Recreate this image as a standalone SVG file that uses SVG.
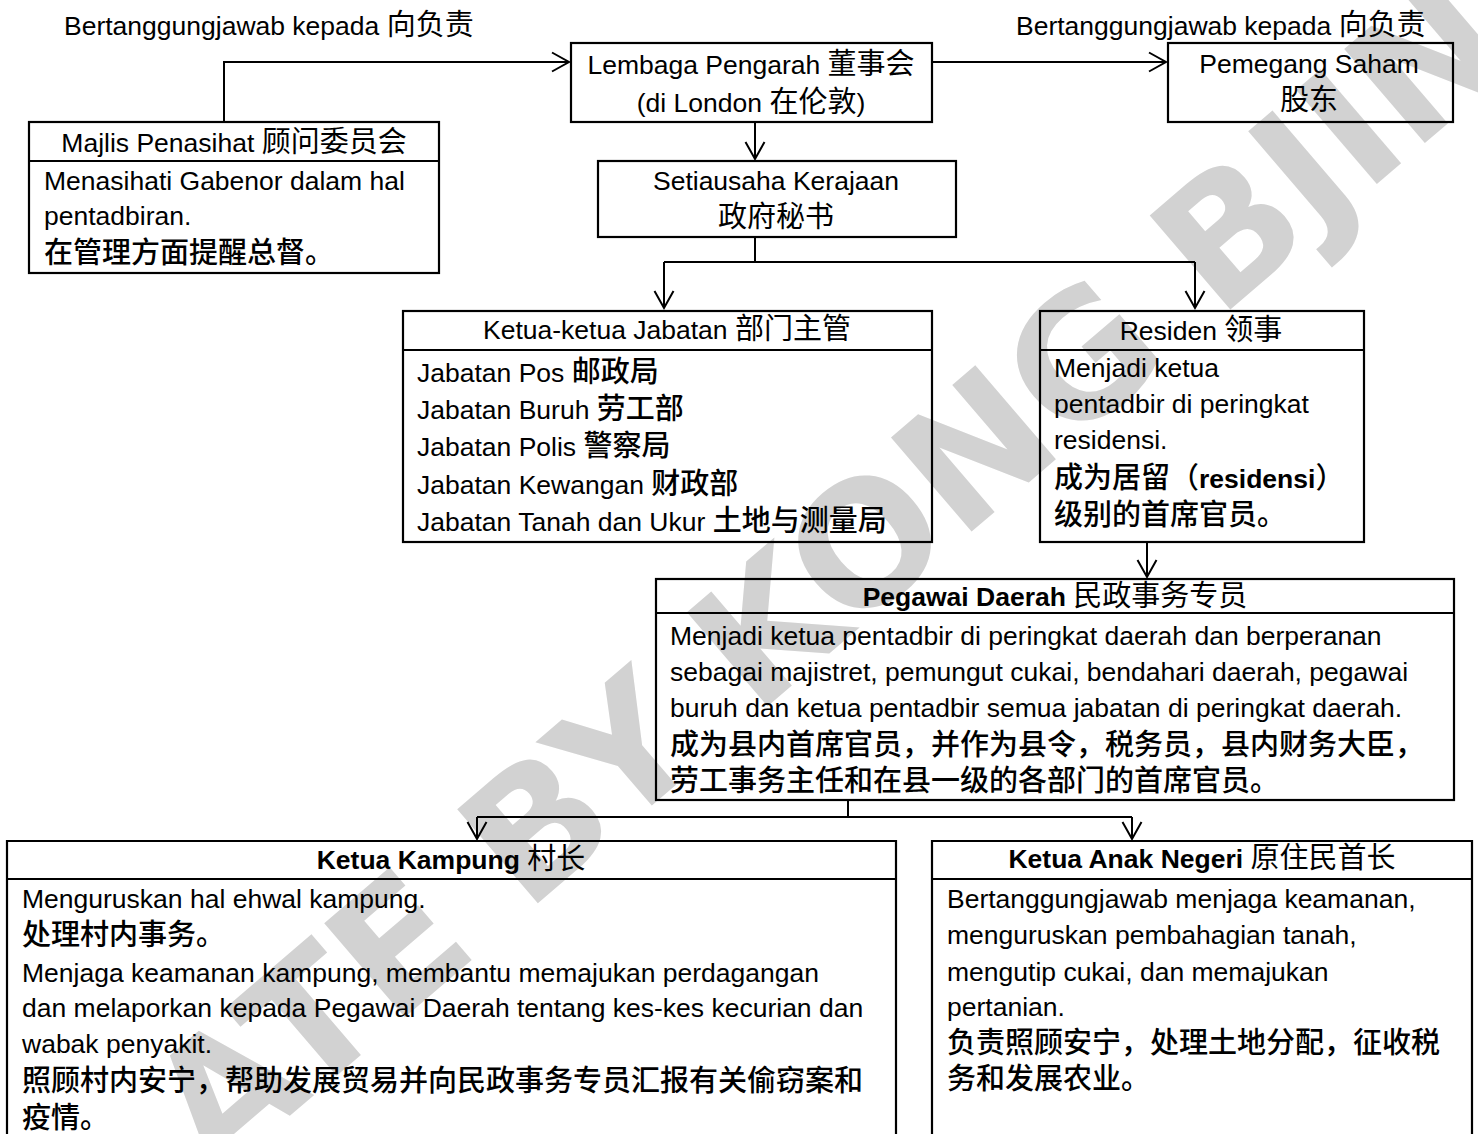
<svg xmlns="http://www.w3.org/2000/svg" width="1478" height="1134" viewBox="0 0 1478 1134">
<defs>
<style>
.box{fill:none;stroke:#000;stroke-width:2.2}
.div{stroke:#000;stroke-width:2.2}
.conn{fill:none;stroke:#000;stroke-width:2}
text{font-family:"Liberation Sans","Noto Sans CJK SC",sans-serif;font-size:26.5px;fill:#000}
.m{text-anchor:middle}
.c{font-family:"Noto Sans CJK SC",sans-serif;font-size:29px;font-weight:400}
.cb{font-family:"Noto Sans CJK SC",sans-serif;font-size:29px;font-weight:500}
.b{font-weight:bold}
.wm{font-family:"DejaVu Sans",sans-serif;font-weight:bold;font-size:170px;fill:#d2d2d2}
</style>
<marker id="arr" markerUnits="userSpaceOnUse" markerWidth="22" markerHeight="22" refX="18" refY="10" orient="auto" overflow="visible">
<path d="M1,0.5 L18,10 L1,19.5" fill="none" stroke="#000" stroke-width="2"/>
</marker>
</defs>
<rect width="1478" height="1134" fill="#fff"/>
<g id="watermark">
<text class="wm" transform="translate(215,1180) rotate(-40.6)">ATE BY KONG BJING</text>
</g>
<g id="labels">
<text x="64" y="35">Bertanggungjawab kepada <tspan class="c">向负责</tspan></text>
<text x="1016" y="35">Bertanggungjawab kepada <tspan class="c">向负责</tspan></text>
</g>
<g id="connectors">
<path class="conn" d="M224,122 L224,62 L569,62" marker-end="url(#arr)"/>
<path class="conn" d="M932,62 L1166,62" marker-end="url(#arr)"/>
<path class="conn" d="M755,122 L755,159" marker-end="url(#arr)"/>
<path class="conn" d="M755,237 L755,262"/>
<path class="conn" d="M664,262 L1195,262"/>
<path class="conn" d="M664,262 L664,308" marker-end="url(#arr)"/>
<path class="conn" d="M1195,262 L1195,308" marker-end="url(#arr)"/>
<path class="conn" d="M1147,542 L1147,577" marker-end="url(#arr)"/>
<path class="conn" d="M848,800 L848,817"/>
<path class="conn" d="M477,817 L1132,817"/>
<path class="conn" d="M477,817 L477,839" marker-end="url(#arr)"/>
<path class="conn" d="M1132,817 L1132,839" marker-end="url(#arr)"/>
</g>
<g id="lembaga">
<rect class="box" x="571" y="43" width="361" height="79"/>
<text class="m" x="751" y="74">Lembaga Pengarah <tspan class="c">董事会</tspan></text>
<text class="m" x="751" y="112">(di London <tspan class="c">在伦敦</tspan>)</text>
</g>
<g id="pemegang">
<rect class="box" x="1168" y="43" width="285" height="79"/>
<text class="m" x="1309" y="73">Pemegang Saham</text>
<text class="m" x="1309" y="110"><tspan class="c">股东</tspan></text>
</g>
<g id="majlis">
<rect class="box" x="29" y="122" width="410" height="151"/>
<line class="div" x1="29" y1="161" x2="439" y2="161"/>
<text class="m" x="234" y="152">Majlis Penasihat <tspan class="c">顾问委员会</tspan></text>
<text x="44" y="190">Menasihati Gabenor dalam hal</text>
<text x="44" y="225">pentadbiran.</text>
<text x="44" y="263"><tspan class="cb">在管理方面提醒总督。</tspan></text>
</g>
<g id="setiausaha">
<rect class="box" x="598" y="161" width="358" height="76"/>
<text class="m" x="776" y="190">Setiausaha Kerajaan</text>
<text class="m" x="776" y="227"><tspan class="c">政府秘书</tspan></text>
</g>
<g id="jabatan">
<rect class="box" x="403" y="311" width="529" height="231"/>
<line class="div" x1="403" y1="350" x2="932" y2="350"/>
<text class="m" x="667" y="339">Ketua-ketua Jabatan <tspan class="c">部门主管</tspan></text>
<text x="417" y="382">Jabatan Pos <tspan class="cb">邮政局</tspan></text>
<text x="417" y="419">Jabatan Buruh <tspan class="cb">劳工部</tspan></text>
<text x="417" y="456">Jabatan Polis <tspan class="cb">警察局</tspan></text>
<text x="417" y="494">Jabatan Kewangan <tspan class="cb">财政部</tspan></text>
<text x="417" y="531">Jabatan Tanah dan Ukur <tspan class="cb">土地与测量局</tspan></text>
</g>
<g id="residen">
<rect class="box" x="1040" y="311" width="324" height="231"/>
<line class="div" x1="1040" y1="350" x2="1364" y2="350"/>
<text class="m" x="1201" y="340">Residen <tspan class="c">领事</tspan></text>
<text x="1054" y="377">Menjadi ketua</text>
<text x="1054" y="413">pentadbir di peringkat</text>
<text x="1054" y="449">residensi.</text>
<text x="1054" y="488"><tspan class="cb">成为居留（</tspan><tspan class="b">residensi</tspan><tspan class="cb">）</tspan></text>
<text x="1054" y="525"><tspan class="cb">级别的首席官员。</tspan></text>
</g>
<g id="pegawai">
<rect class="box" x="656" y="579" width="798" height="221"/>
<line class="div" x1="656" y1="613" x2="1454" y2="613"/>
<text class="m" x="1055" y="606"><tspan class="b">Pegawai Daerah</tspan> <tspan class="c">民政事务专员</tspan></text>
<text x="670" y="645">Menjadi ketua pentadbir di peringkat daerah dan berperanan</text>
<text x="670" y="681">sebagai majistret, pemungut cukai, bendahari daerah, pegawai</text>
<text x="670" y="717">buruh dan ketua pentadbir semua jabatan di peringkat daerah.</text>
<text x="670" y="755"><tspan class="cb">成为县内首席官员，并作为县令，税务员，县内财务大臣，</tspan></text>
<text x="670" y="791"><tspan class="cb">劳工事务主任和在县一级的各部门的首席官员。</tspan></text>
</g>
<g id="kampung">
<path class="box" d="M7,1140 L7,841 L896,841 L896,1140"/>
<line class="div" x1="7" y1="879" x2="896" y2="879"/>
<text class="m" x="451" y="869"><tspan class="b">Ketua Kampung</tspan> <tspan class="c">村长</tspan></text>
<text x="22" y="908">Menguruskan hal ehwal kampung.</text>
<text x="22" y="945"><tspan class="cb">处理村内事务。</tspan></text>
<text x="22" y="982">Menjaga keamanan kampung, membantu memajukan perdagangan</text>
<text x="22" y="1017">dan melaporkan kepada Pegawai Daerah tentang kes-kes kecurian dan</text>
<text x="22" y="1053">wabak penyakit.</text>
<text x="22" y="1091"><tspan class="cb">照顾村内安宁，帮助发展贸易并向民政事务专员汇报有关偷窃案和</tspan></text>
<text x="22" y="1128"><tspan class="cb">疫情。</tspan></text>
</g>
<g id="anaknegeri">
<path class="box" d="M932,1140 L932,841 L1472,841 L1472,1140"/>
<line class="div" x1="932" y1="879" x2="1472" y2="879"/>
<text class="m" x="1202" y="868"><tspan class="b">Ketua Anak Negeri</tspan> <tspan class="c">原住民首长</tspan></text>
<text x="947" y="908">Bertanggungjawab menjaga keamanan,</text>
<text x="947" y="944">menguruskan pembahagian tanah,</text>
<text x="947" y="981">mengutip cukai, dan memajukan</text>
<text x="947" y="1016">pertanian.</text>
<text x="947" y="1053"><tspan class="cb">负责照顾安宁，处理土地分配，征收税</tspan></text>
<text x="947" y="1089"><tspan class="cb">务和发展农业。</tspan></text>
</g>
</svg>
